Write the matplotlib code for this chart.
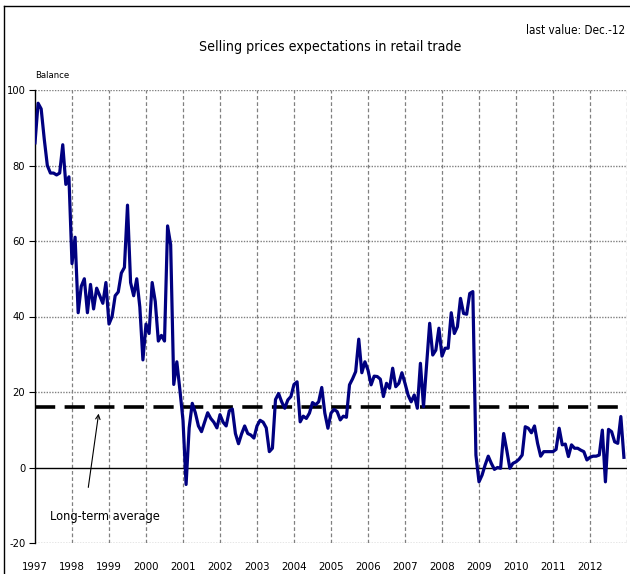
import numpy as np
import matplotlib.pyplot as plt
from matplotlib.lines import Line2D

# ---- data (monthly balance, Jan 1997 - Dec 2012) ----
years = list(range(1997, 2013))
v1997 = [86, 96.5, 95, 87, 80, 78, 78, 77.5, 78, 85.5, 75, 77]
v1998 = [54, 61, 41, 48, 50, 41, 48.5, 42, 47.5, 45.5, 43.5, 49]
v1999 = [38, 40, 45.5, 46.5, 51.5, 53, 69.5, 49, 45.5, 50, 42.5, 28.5]
v2000 = [38, 35.5, 49, 44, 33.5, 35, 33.5, 64, 59, 22, 28, 20.5]
v2001 = [12.5, -4.5, 10.5, 17, 14.5, 11, 9.5, 12, 14.5, 13, 12, 10.5]
v2002 = [14, 12, 11, 15, 15.5, 9, 6.3, 8.9, 11, 9, 8.6, 7.8]
v2003 = [11, 12.5, 12, 10.5, 4.2, 5.1, 18, 19.6, 17.4, 15.7, 17.9, 18.8]
v2004 = [22, 22.7, 12.1, 13.6, 13, 14.4, 17.2, 16.6, 17.4, 21.2, 14.4, 10.4]
v2005 = [14.4, 15.4, 14.8, 12.6, 13.6, 13.3, 21.9, 23.5, 25.4, 34, 25.1, 28]
v2006 = [25.8, 21.9, 24.2, 24.1, 23.4, 18.8, 22.3, 21, 26.3, 21.4, 22.3, 25.1]
v2007 = [22.3, 19.2, 17.4, 19.2, 15.7, 27.6, 16.1, 27, 38.2, 29.8, 31.1, 36.9]
v2008 = [29.5, 31.6, 31.6, 41, 35.5, 37.3, 44.8, 40.8, 40.6, 46.1, 46.6, 3.3]
v2009 = [-3.8, -2, 0.7, 3, 1.1, -0.5, 0, -0.2, 9, 4.6, -0.2, 1.1]
v2010 = [1.5, 2.2, 3.3, 10.8, 10.4, 9.2, 11, 6.4, 3, 4.2, 4.2, 4.2]
v2011 = [4.2, 4.8, 10.4, 6, 6.2, 2.9, 6, 5.1, 5.1, 4.6, 4.2, 2]
v2012 = [2.7, 3, 3, 3.3, 9.9, -3.8, 10.1, 9.5, 6.8, 6.4, 13.5, 2.7]
long_term_average = 16
year_labels = [str(y) for y in years]
y_ticks = [-20, 0, 20, 40, 60, 80, 100]

values = (v1997 + v1998 + v1999 + v2000 + v2001 + v2002 + v2003 + v2004 +
          v2005 + v2006 + v2007 + v2008 + v2009 + v2010 + v2011 + v2012)

plt.rcParams['font.family'] = ['DejaVu Sans']
plt.rcParams['font.stretch'] = 'condensed'

W, H = 630, 574
fig = plt.figure(figsize=(W / 100, H / 100), dpi=100)
fig.patch.set_facecolor('white')

# figure frame (top and left edges visible)
fig.add_artist(Line2D([4 / W, 4 / W], [0, 1 - 6 / H], color='black', lw=1.0,
                      transform=fig.transFigure))
fig.add_artist(Line2D([4 / W, 1], [1 - 6 / H, 1 - 6 / H], color='black', lw=1.0,
                      transform=fig.transFigure))

ax = fig.add_axes([35 / W, 1 - 543 / H, 592 / W, 453 / H])
t = 1997 + np.arange(len(values)) / 12.0

for yv in [20, 40, 60, 80, 100, -20]:
    ax.axhline(yv, color='#808080', lw=1.0, ls=(0, (1, 1)), zorder=1)
for xv in range(1998, 2014):
    ax.axvline(xv, color='#808080', lw=0.9, ls=(0, (3, 2)), zorder=1)
ax.axhline(0, color='black', lw=1.0, zorder=2)
ax.axhline(long_term_average, color='black', lw=2.6, dashes=(5.6, 2.6), zorder=3)
ax.plot(t, values, color='#000080', lw=2.3, zorder=4, solid_joinstyle='round')

ax.set_xlim(1997, 2013)
ax.set_ylim(-20, 100)
for s in ['top', 'right', 'bottom']:
    ax.spines[s].set_visible(False)
ax.spines['left'].set_color('black')
ax.spines['left'].set_linewidth(1.0)

ax.set_xticks(years)
ax.set_xticklabels(year_labels, fontsize=8.2)
ax.tick_params(axis='x', length=0, pad=14)
ax.set_yticks(y_ticks)
ax.set_yticklabels([str(v) for v in y_ticks], fontsize=8)
ax.tick_params(axis='y', length=4, width=0.8, pad=3)

fig.text(330 / W, 1 - 47 / H, 'Selling prices expectations in retail trade',
         ha='center', va='center', fontsize=10.2)
fig.text(625 / W, 1 - 30 / H, 'last value: Dec.-12', ha='right', va='center',
         fontsize=8.4)
fig.text(35 / W, 1 - 76 / H, 'Balance', ha='left', va='center', fontsize=6.8)

ax.annotate('', xy=(1998.73, 15.0), xytext=(1998.43, -6.0),
            arrowprops=dict(arrowstyle='->', lw=0.8, color='black',
                            mutation_scale=8))
ax.text(1997.4, -13.0, 'Long-term average', ha='left', va='center', fontsize=9.2)

fig.savefig('out.png', dpi=100, facecolor='white')
